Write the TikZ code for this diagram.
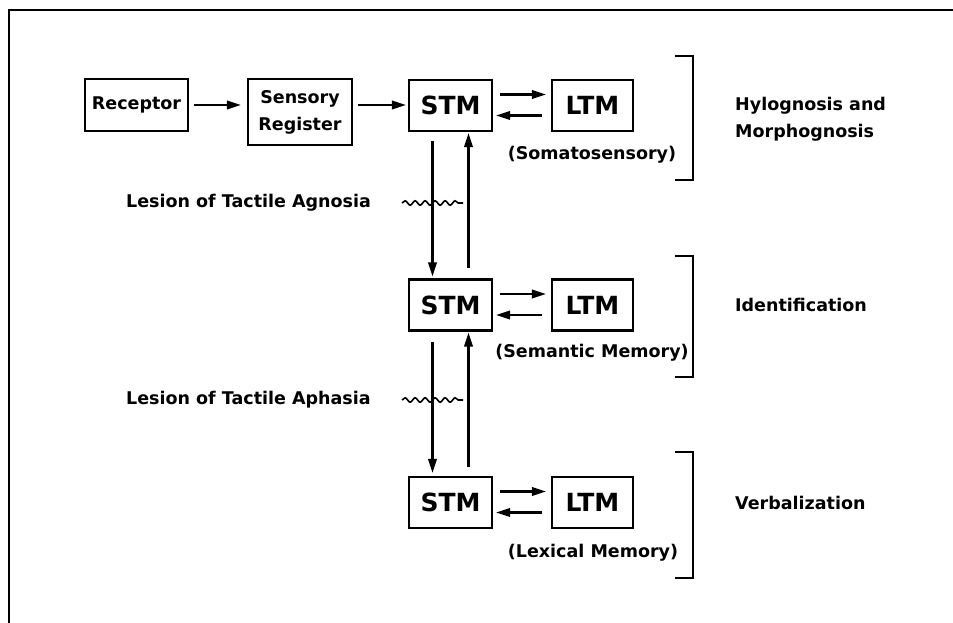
\documentclass[tikz,border=0pt]{standalone}
\usepackage{fontspec}
\setmainfont{DejaVu Sans}
\usetikzlibrary{arrows.meta,decorations.pathmorphing,calc}
\begin{document}
\begin{tikzpicture}[x=1pt,y=-1pt,
  box/.style={draw,line width=2.2pt,inner sep=0pt,font=\fontsize{17.5}{27}\selectfont\bfseries},
  mem/.style={box,font=\fontsize{25}{30}\selectfont\bfseries,minimum width=83pt,minimum height=51pt},
  lbl/.style={inner sep=0pt,font=\fontsize{17.5}{27}\selectfont\bfseries},
  arr/.style={line width=2.2pt,-{Triangle[length=14pt,width=8.5pt]}},
  brk/.style={line width=2.4pt},
  frame/.style={line width=1.6pt},
  wav/.style={line width=1.6pt,decorate,decoration={snake,segment length=10pt,amplitude=2.2pt}}
]
\useasboundingbox (0,0) rectangle (953,623);
% frame
\coordinate (fr1) at (953,10);
\coordinate (fr2) at (9,10);
\coordinate (fr3) at (9,623);
\draw[frame] (fr1) -- (fr2) -- (fr3);

% boxes
\node[box,minimum width=103pt,minimum height=52pt] (rec) at (136.5,105) {Receptor};
\node[box,minimum width=104pt,minimum height=66pt,align=center] (sen) at (300,112) {Sensory\\Register};
\node[mem] (s1) at (450.5,105.5) {STM};
\node[mem,minimum width=81pt] (l1) at (592.5,105.5) {LTM};
\node[mem] (s2) at (450.5,305) {STM};
\node[mem,minimum width=81pt] (l2) at (592.5,305) {LTM};
\node[mem] (s3) at (450.5,502.5) {STM};
\node[mem,minimum width=81pt] (l3) at (592.5,502.5) {LTM};

% chain arrows
\draw[arr] ($(rec.east)+(5,0)$) -- ($(rec.east -| sen.west)+(-6,0)$);
\draw[arr] ($(rec.east -| sen.east)+(5,0)$) -- ($(rec.east -| s1.west)+(-2,0)$);

% STM <-> LTM
\foreach \s/\l in {s1/l1,s2/l2,s3/l3}{
  \draw[arr] ($(\s.east)+(7,-11)$) -- ($(\l.west)+(-5,-11)$);
  \draw[arr] ($(\l.west)+(-9,10)$) -- ($(\s.east)+(3,10)$);
}

% vertical
\draw[arr] ($(s1.south)+(-18,9)$) -- ($(s2.north)+(-18,-2)$);
\draw[arr] ($(s2.north)+(18,-10)$) -- ($(s1.south)+(18,1)$);
\draw[arr] ($(s2.south)+(-18,10)$) -- ($(s3.north)+(-18,-3)$);
\draw[arr] ($(s3.north)+(18,-9)$) -- ($(s2.south)+(18,1)$);

% lesion marks
\coordinate (w1a) at (402,203); \coordinate (w1b) at (463,203);
\coordinate (w2a) at (402,400); \coordinate (w2b) at (463,400);
\draw[wav] (w1a) -- (w1b);
\draw[wav] (w2a) -- (w2b);

\node[lbl,anchor=west] (agn) at (126,203) {Lesion of Tactile Agnosia};
\node[lbl,anchor=west] (aph) at (126,400) {Lesion of Tactile Aphasia};

% captions
\node[lbl] (c1) at (592,155) {(Somatosensory)};
\node[lbl] (c2) at (592,353) {(Semantic Memory)};
\node[lbl] (c3) at (593,553) {(Lexical Memory)};

% brackets
\draw[brk] (675,56) -- (693,56) -- (693,180) -- (675,180);
\draw[brk] (675,256) -- (693,256) -- (693,377) -- (675,377);
\draw[brk] (675,452) -- (693,452) -- (693,578) -- (675,578);

% right labels
\node[lbl,anchor=west,align=left] (hyl) at (735,119.5) {Hylognosis and\\Morphognosis};
\node[lbl,anchor=west] (idf) at (735,305) {Identification};
\node[lbl,anchor=west] (vrb) at (735,503) {Verbalization};
\end{tikzpicture}
\end{document}
